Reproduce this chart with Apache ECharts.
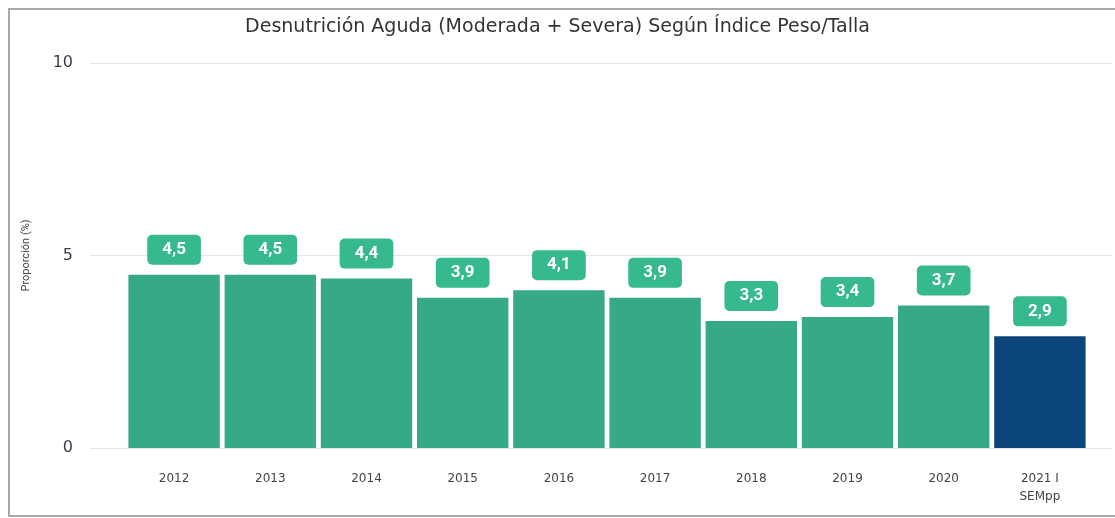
<!DOCTYPE html>
<html>
<head>
<meta charset="utf-8">
<script src="https://cdn.jsdelivr.net/npm/echarts@6/dist/echarts.min.js"></script>
<style>
  html, body { margin: 0; padding: 0; background: #fff; }
  #chart { width: 1115px; height: 518px; }
</style>
</head>
<body>
<div id="chart"></div>
<script>
// datos
const years = ['2012', '2013', '2014', '2015', '2016', '2017', '2018', '2019', '2020', '2021 I\nSEMpp'];
const proporcion = [4.5, 4.5, 4.4, 3.9, 4.1, 3.9, 3.3, 3.4, 3.7, 2.9];
const yTicks = [0, 5, 10];

const verde = '#36a987';
const azul = '#0b4478';
const fuente = 'Roboto, "Noto Sans", sans-serif';
const fuenteAncha = '"DejaVu Sans", sans-serif';

const chart = echarts.init(document.getElementById('chart'));

const option = {
  animation: false,
  title: {
    text: 'Desnutrición Aguda (Moderada + Severa) Según Índice Peso/Talla',
    left: 'center',
    top: 13,
    textStyle: { fontFamily: fuenteAncha, fontSize: 19, fontWeight: 'normal', color: '#333' }
  },
  graphic: [
    {
      type: 'polyline',
      shape: { points: [[1115, 9], [9, 9], [9, 516], [1115, 516]] },
      style: { stroke: '#a8a8a8', lineWidth: 2, fill: null }
    }
  ],
  grid: [
    // grid ancho solo para las lineas guia y etiquetas del eje y
    { left: 90, right: 2, top: 63, bottom: 70 },
    // grid de las barras
    { left: 126, right: 27, top: 63, bottom: 70 }
  ],
  xAxis: [
    { type: 'category', gridIndex: 0, data: years, show: false },
    {
      type: 'category',
      gridIndex: 1,
      data: years,
      axisLine: { show: false },
      axisTick: { show: false },
      axisLabel: {
        margin: 22,
        fontFamily: fuenteAncha,
        fontSize: 12,
        color: '#444',
        lineHeight: 18
      }
    }
  ],
  yAxis: [
    {
      type: 'value',
      gridIndex: 0,
      min: yTicks[0],
      max: yTicks[yTicks.length - 1],
      interval: 5,
      name: 'Proporción (%)',
      nameLocation: 'middle',
      nameRotate: 90,
      nameGap: 58,
      nameTextStyle: { fontFamily: fuente, fontSize: 11, color: '#444' },
      axisLabel: { margin: 17, fontFamily: fuenteAncha, fontSize: 16, color: '#3a3f4a' },
      axisLine: { show: false },
      axisTick: { show: false },
      splitLine: { lineStyle: { color: '#e6e6e6', width: 1 } }
    },
    {
      type: 'value',
      gridIndex: 1,
      min: yTicks[0],
      max: yTicks[yTicks.length - 1],
      interval: 5,
      show: false,
      splitLine: { show: false }
    }
  ],
  series: [
    {
      type: 'bar',
      xAxisIndex: 1,
      yAxisIndex: 1,
      data: proporcion.map((v, i) => ({
        value: v,
        itemStyle: { color: i === proporcion.length - 1 ? azul : verde }
      })),
      barCategoryGap: '5%',
      label: {
        show: true,
        position: 'top',
        distance: 10,
        formatter: p => String(p.value).replace('.', ','),
        backgroundColor: '#36b98b',
        borderRadius: 5,
        padding: [5, 15],
        lineHeight: 20,
        fontFamily: fuente,
        fontSize: 17,
        fontWeight: 'bold',
        color: '#fff'
      }
    }
  ]
};

chart.setOption(option);
</script>
</body>
</html>
